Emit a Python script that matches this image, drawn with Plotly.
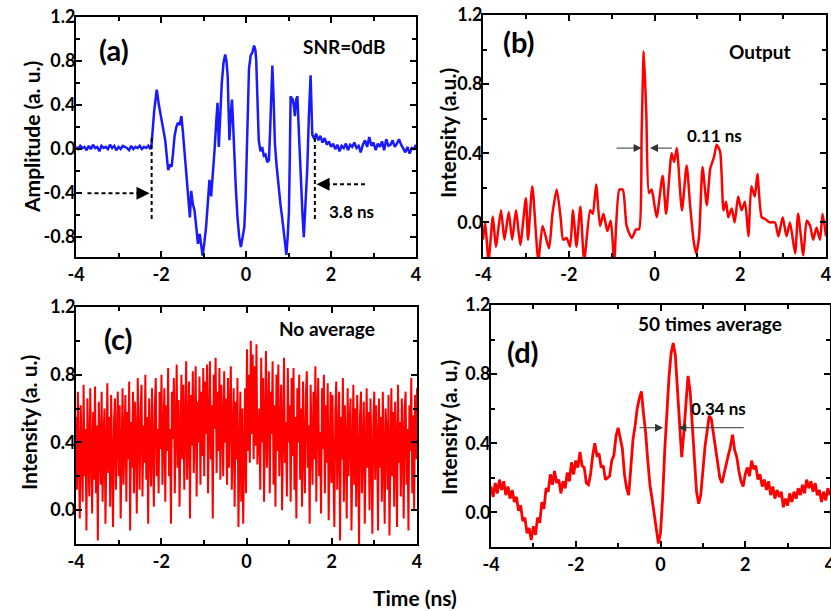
import numpy as np
import plotly.graph_objects as go

W, H = 831, 611

# ---------------- data ----------------
# (a) input waveform, SNR = 0 dB
a_left_y = [0.02, 0.00, 0.03, 0.01, 0.02, -0.01, 0.03, 0.00, 0.04, 0.01, 0.02, -0.02,
            0.03, 0.01, 0.02, 0.00, 0.04, 0.01, 0.03, -0.01, 0.02, 0.00, 0.03, 0.02,
            0.01, -0.01, 0.03, 0.00, 0.02, 0.01, 0.03, 0.00, 0.02, 0.01, 0.03, 0.00]
a_sig_t = [-2.22, -2.16, -2.10, -2.05, -1.98, -1.95, -1.90, -1.85, -1.83, -1.79, -1.75, -1.72,
           -1.68, -1.64, -1.60, -1.56, -1.52, -1.49, -1.45, -1.40, -1.36, -1.32, -1.29, -1.25,
           -1.21, -1.17, -1.13, -1.09, -1.05, -1.02, -0.98, -0.94, -0.90, -0.86, -0.82, -0.78,
           -0.74, -0.70, -0.67, -0.64, -0.60, -0.57, -0.53, -0.49, -0.46, -0.43, -0.41, -0.39,
           -0.36, -0.33, -0.30, -0.28, -0.24, -0.20, -0.16, -0.12, -0.08, -0.04, -0.01, 0.01,
           0.04, 0.07, 0.11, 0.15, 0.19, 0.22, 0.24, 0.27, 0.30, 0.34, 0.38, 0.42,
           0.46, 0.50, 0.54, 0.57, 0.60, 0.62, 0.65, 0.68, 0.72, 0.77, 0.81, 0.85,
           0.89, 0.92, 0.95, 0.98, 1.01, 1.03, 1.05, 1.08, 1.10, 1.13, 1.15, 1.18,
           1.21, 1.25, 1.29, 1.33, 1.36, 1.40, 1.44, 1.48, 1.52, 1.56, 1.61]
a_sig_y = [0.05, 0.35, 0.54, 0.40, 0.25, 0.18, 0.08, -0.12, -0.19, -0.14, -0.16, -0.05,
           0.12, 0.20, 0.24, 0.22, 0.30, 0.18, 0.00, -0.25, -0.45, -0.62, -0.38, -0.50,
           -0.56, -0.72, -0.86, -0.77, -0.92, -0.97, -0.85, -0.71, -0.50, -0.28, -0.43, -0.25,
           -0.01, 0.25, 0.42, 0.02, 0.35, 0.60, 0.78, 0.86, 0.80, 0.66, 0.35, 0.08,
           0.30, 0.45, 0.20, -0.01, -0.35, -0.62, -0.80, -0.89, -0.80, -0.71, -0.45, -0.10,
           0.40, 0.73, 0.85, 0.88, 0.94, 0.90, 0.81, 0.50, 0.08, -0.02, 0.02, -0.06,
           -0.05, -0.12, -0.10, 0.20, 0.62, 0.76, 0.45, 0.05, -0.15, -0.38, -0.50, -0.62,
           -0.75, -0.88, -0.96, -0.80, -0.57, -0.10, 0.48, 0.46, 0.45, 0.38, 0.30, 0.45,
           0.48, 0.10, -0.31, -0.60, -0.80, -0.55, -0.19, 0.30, 0.67, 0.13, 0.09]
a_right_y = [0.14, 0.08, 0.12, 0.06, 0.10, 0.04, 0.07, 0.02, 0.05, 0.00, 0.04, -0.02,
             0.03, 0.01, 0.05, -0.01, 0.04, 0.02, 0.06, 0.01, 0.03, -0.03, 0.04, 0.08,
             0.02, 0.11, 0.03, 0.06, -0.01, 0.05, 0.02, 0.07, -0.01, 0.09, 0.03, 0.04,
             0.08, 0.02, 0.05, 0.09, 0.04, 0.01, -0.03, 0.02, -0.04, 0.01, 0.00, 0.04]

# (b) output
b_t = [-4.00, -3.95, -3.87, -3.77, -3.70, -3.58, -3.50, -3.40, -3.32, -3.23, -3.13, -3.00,
       -2.95, -2.85, -2.71, -2.61, -2.46, -2.38, -2.28, -2.19, -2.13, -2.05, -1.97, -1.90,
       -1.82, -1.73, -1.64, -1.50, -1.44, -1.36, -1.27, -1.19, -1.10, -1.02, -0.94, -0.82,
       -0.74, -0.65, -0.53, -0.43, -0.36, -0.30, -0.25, -0.19, -0.13, -0.07, -0.03, 0.05,
       0.19, 0.27, 0.40, 0.46, 0.52, 0.64, 0.75, 0.83, 0.91, 0.97, 1.04, 1.12,
       1.22, 1.30, 1.39, 1.45, 1.53, 1.61, 1.67, 1.72, 1.80, 1.87, 1.95, 2.03,
       2.11, 2.19, 2.26, 2.34, 2.40, 2.50, 2.58, 2.69, 2.81, 2.89, 2.99, 3.08,
       3.16, 3.28, 3.35, 3.47, 3.55, 3.63, 3.70, 3.78, 3.86, 3.92, 4.00]
b_y = [-0.10, 0.00, -0.22, 0.035, -0.14, 0.07, -0.10, 0.06, -0.10, 0.07, -0.13, 0.14,
       -0.10, 0.21, -0.22, -0.02, -0.15, 0.05, 0.19, 0.03, -0.10, -0.09, -0.14, 0.07,
       -0.14, 0.09, -0.22, 0.07, 0.05, 0.22, -0.02, 0.05, -0.05, 0.01, -0.22, 0.19,
       0.19, -0.02, -0.09, -0.04, -0.04, 0.52, 0.99, 0.62, 0.17, 0.19, 0.15, 0.03,
       0.27, 0.05, 0.40, 0.35, 0.43, 0.07, 0.33, 0.10, -0.10, -0.18, -0.08, 0.32,
       0.10, 0.31, 0.38, 0.45, 0.41, 0.07, 0.12, 0.03, 0.08, 0.00, 0.15, 0.07,
       0.12, -0.08, 0.21, 0.15, 0.28, 0.03, 0.02, 0.00, 0.00, -0.08, 0.03, -0.08,
       0.00, -0.18, 0.05, -0.19, 0.01, -0.02, -0.10, -0.03, -0.10, 0.05, -0.08]

# (c) no average (single shot)
c_y = [
    0.55, 0.12, 0.70, 0.25, -0.05, 0.62, 0.38, 0.05, 0.74, 0.20, 0.48, -0.12, 0.66, 0.30, 0.08,
    0.72, 0.42, -0.02, 0.58, 0.18, 0.73, 0.10, 0.50, -0.18, 0.64, 0.35, 0.15, 0.70, 0.05, 0.45,
    0.60, -0.08, 0.40, 0.75, 0.22, 0.55, 0.02, 0.68, 0.28, -0.10, 0.52, 0.66, 0.12, 0.45, 0.70,
    0.20, 0.62, -0.05, 0.48, 0.72, 0.15, 0.40, 0.68, 0.05, 0.58, 0.30, 0.76, -0.12, 0.52, 0.25,
    0.70, 0.10, 0.64, 0.45, -0.02, 0.78, 0.35, 0.12, 0.60, 0.74, 0.08, 0.50, 0.28, 0.80, 0.18,
    0.55, -0.08, 0.66, 0.40, 0.14, 0.72, 0.30, 0.02, 0.62, 0.78, 0.20, 0.48, 0.10, 0.70, 0.36,
    0.80, 0.15, 0.55, 0.72, 0.05, 0.62, 0.35, 0.84, 0.20, 0.48, -0.08, 0.70, 0.42, 0.78, 0.10,
    0.58, 0.86, 0.25, 0.65, 0.02, 0.52, 0.80, 0.30, 0.74, 0.12, 0.60, 0.88, 0.18, 0.45, 0.76,
    -0.05, 0.68, 0.38, 0.82, 0.22, 0.56, 0.85, 0.08, 0.64, 0.40, 0.79, 0.15, 0.70, 0.32, 0.84,
    0.20, 0.76, 0.45, 0.86, 0.10, 0.68, 0.88, 0.30, 0.62, -0.05, 0.80, 0.48, 0.90, 0.22, 0.70,
    0.35, 0.84, 0.18, 0.74, 0.52, 0.20, 0.82, 0.40, 0.66, 0.15, 0.78, 0.25, 0.60, 0.85, 0.12,
    0.55, 0.72, 0.02, 0.64, 0.30, 0.78, -0.10, 0.50, 0.70, 0.05, 0.60, -0.08, 0.45, 0.72, 0.10,
    0.95, 0.35, 0.80, 0.28, 1.00, 0.45, 0.92, 0.30, 0.85, 0.38, 0.98, 0.27, 0.48, 0.60, 0.12,
    0.90, 0.40, 0.78, 0.05, 0.66, 0.94, 0.25, 0.58, 0.82, 0.10, 0.70, 0.45, 0.88, 0.15, 0.62,
    0.02, 0.80, 0.35, 0.86, 0.20, 0.55, 0.74, 0.00, 0.68, 0.90, 0.28, 0.52, 0.08, 0.84, 0.40,
    0.62, 0.05, 0.78, 0.32, 0.84, 0.12, 0.55, -0.05, 0.72, 0.40, 0.80, 0.18, 0.60, 0.02, 0.76,
    0.35, 0.10, 0.68, 0.82, 0.25, 0.50, -0.08, 0.74, 0.42, 0.15, 0.70, 0.30, 0.85, 0.05, 0.58,
    0.78, 0.20, 0.46, -0.02, 0.72, 0.36, 0.80, 0.10, 0.62, 0.28, 0.75, -0.06, 0.52, 0.70, 0.16,
    0.68, 0.22, -0.10, 0.58, 0.76, 0.12, 0.45, 0.70, -0.18, 0.55, 0.30, 0.78, 0.05, 0.62, 0.38,
    -0.05, 0.72, 0.20, 0.50, 0.66, -0.12, 0.42, 0.74, 0.15, 0.60, 0.02, 0.68, 0.32, -0.20, 0.56,
    0.70, 0.10, 0.48, 0.64, -0.08, 0.40, 0.72, 0.25, 0.58, 0.00, 0.66, 0.35, -0.14, 0.52, 0.70,
    0.18, 0.62, 0.40, -0.12, 0.66, 0.25, 0.55, 0.05, 0.70, 0.32, -0.08, 0.60, 0.45, 0.12, 0.68,
    -0.15, 0.50, 0.72, 0.20, 0.58, 0.02, 0.64, 0.38, -0.10, 0.74, 0.28, 0.52, 0.08, 0.66, 0.42,
    -0.05, 0.60, 0.70, 0.15, 0.48, -0.12, 0.62, 0.35, 0.78, 0.10, 0.56, 0.00, 0.68, 0.30, 0.72]

# (d) 50 times average
d_y = [0.15, 0.09, 0.17, 0.11, 0.19, 0.13, 0.18, 0.10, 0.15, 0.08, 0.13, 0.06, 0.09, 0.01, 0.04,
       -0.05, -0.03, -0.12, -0.09, -0.16, -0.08, -0.13, -0.03, -0.06, 0.06, 0.02, 0.14, 0.12, 0.22,
       0.16, 0.24, 0.17, 0.19, 0.11, 0.18, 0.14, 0.23, 0.18, 0.29, 0.22, 0.30, 0.26, 0.35, 0.27,
       0.26, 0.17, 0.16, 0.22, 0.33, 0.40, 0.33, 0.34, 0.26, 0.27, 0.19, 0.20, 0.21, 0.30, 0.33,
       0.44, 0.49, 0.43, 0.37, 0.22, 0.14, 0.10, 0.28, 0.42, 0.50, 0.60, 0.66, 0.70, 0.57, 0.46,
       0.30, 0.16, 0.08, 0.00, -0.08, -0.18, -0.12, 0.08, 0.36, 0.60, 0.78, 0.92, 0.98, 0.91, 0.72,
       0.50, 0.32, 0.46, 0.66, 0.79, 0.70, 0.52, 0.28, 0.12, 0.05, 0.10, 0.24, 0.38, 0.47, 0.56,
       0.54, 0.46, 0.38, 0.30, 0.20, 0.17, 0.23, 0.27, 0.33, 0.38, 0.45, 0.36, 0.32, 0.24, 0.18,
       0.15, 0.22, 0.26, 0.21, 0.30, 0.25, 0.27, 0.19, 0.22, 0.15, 0.19, 0.13, 0.18, 0.10, 0.15,
       0.08, 0.13, 0.09, 0.12, 0.03, 0.08, 0.04, 0.11, 0.06, 0.12, 0.08, 0.14, 0.10, 0.16, 0.11,
       0.19, 0.14, 0.18, 0.12, 0.17, 0.10, 0.13, 0.06, 0.12, 0.07, 0.14, 0.10]

x_tickvals = [-4, -2, 0, 2, 4]
x_ticktext = ["-4", "-2", "0", "2", "4"]
ya_tickvals = [-0.8, -0.4, 0.0, 0.4, 0.8, 1.2]
ya_ticktext = ["-0.8", "-0.4", "0.0", "0.4", "0.8", "1.2"]
yi_tickvals = [0.0, 0.4, 0.8, 1.2]
yi_ticktext = ["0.0", "0.4", "0.8", "1.2"]

# ---------------- figure ----------------
a_t = list(np.linspace(-4, -2.25, len(a_left_y))) + a_sig_t + list(np.linspace(1.65, 4.0, len(a_right_y)))
a_y = a_left_y + a_sig_y + a_right_y
c_t = np.linspace(-4, 4, len(c_y))
d_t = np.linspace(-4, 4, len(d_y))

FONT = "Lato, 'Open Sans', sans-serif"
RED = "#ff0000"
BLUE = "#1a1aff"

fig = go.Figure()
fig.add_trace(go.Scatter(x=a_t, y=a_y, mode="lines", line=dict(color=BLUE, width=2.5),
                         xaxis="x", yaxis="y", showlegend=False))
fig.add_trace(go.Scatter(x=b_t, y=b_y, mode="lines", line=dict(color=RED, width=2.5, shape="spline", smoothing=0.6),
                         xaxis="x2", yaxis="y2", showlegend=False))
fig.add_trace(go.Scatter(x=c_t, y=c_y, mode="lines", line=dict(color=RED, width=2.0),
                         xaxis="x3", yaxis="y3", showlegend=False))
fig.add_trace(go.Scatter(x=d_t, y=d_y, mode="lines", line=dict(color=RED, width=2.8),
                         xaxis="x4", yaxis="y4", showlegend=False))


def px(x):
    return x / W


def py(y):
    return 1 - y / H


tickfont = dict(family=FONT, size=18, color="black", weight="bold")


def xax(dom, anchor):
    return dict(domain=dom, anchor=anchor, range=[-4, 4], tickvals=x_tickvals, ticktext=x_ticktext,
                showline=True, linecolor="black", linewidth=2, mirror="ticks", ticks="inside",
                ticklen=6, tickwidth=2, tickcolor="black", showgrid=False, zeroline=False,
                tickfont=tickfont, automargin=False, ticklabeloverflow="allow",
                minor=dict(ticks="inside", ticklen=4, tickwidth=1.5, tickcolor="black", dtick=1, tick0=0,
                           showgrid=False))


def yax(dom, anchor, rng, tv, tt):
    return dict(domain=dom, anchor=anchor, range=rng, tickvals=tv, ticktext=tt,
                showline=True, linecolor="black", linewidth=2, mirror="ticks", ticks="inside",
                ticklen=6, tickwidth=2, tickcolor="black", showgrid=False, zeroline=False,
                tickfont=tickfont, ticklabelstandoff=-5, automargin=False, ticklabeloverflow="allow",
                minor=dict(ticks="inside", ticklen=4, tickwidth=1.5, tickcolor="black", dtick=0.2, tick0=0,
                           showgrid=False))


fig.update_layout(
    template="none",
    width=W, height=H, margin=dict(l=0, r=0, t=0, b=0, autoexpand=False),
    paper_bgcolor="white", plot_bgcolor="white",
    xaxis=xax([px(76), px(416)], "y"),
    yaxis=yax([py(257), py(17)], "x", [-0.98, 1.2], ya_tickvals, ya_ticktext),
    xaxis2=xax([px(483), px(826)], "y2"),
    yaxis2=yax([py(257), py(15)], "x2", [-0.2, 1.2], yi_tickvals, yi_ticktext),
    xaxis3=xax([px(76), px(417)], "y3"),
    yaxis3=yax([py(544), py(307)], "x3", [-0.2, 1.2], yi_tickvals, yi_ticktext),
    xaxis4=xax([px(491), px(830)], "y4"),
    yaxis4=yax([py(547), py(305)], "x4", [-0.2, 1.2], yi_tickvals, yi_ticktext),
)


def txt(x, y, s, size, angle=0):
    fig.add_annotation(x=px(x), y=py(y), xref="paper", yref="paper", text=s, showarrow=False,
                       xanchor="center", yanchor="middle", textangle=angle,
                       font=dict(family=FONT, size=size, color="black", weight="bold"))


# panel labels and titles
txt(114, 50, "(a)", 29)
txt(344, 47, "SNR=0dB", 19)
txt(519, 41, "(b)", 29)
txt(760, 51, "Output", 19)
txt(118, 338, "(c)", 29)
txt(327, 328, "No average", 19)
txt(523, 351, "(d)", 29)
txt(710, 323, "50 times average", 19)
txt(415, 597, "Time (ns)", 21)
txt(32, 137, "Amplitude (a. u.)", 21, -90)
txt(447, 133, "Intensity (a.u.)", 21, -90)
txt(28, 423, "Intensity (a. u.)", 21, -90)
txt(448, 427, "Intensity (a. u.)", 21, -90)

# (a) dashed markers
for xv in [-2.22, 1.62]:
    fig.add_shape(type="line", xref="x", yref="y", x0=xv, x1=xv, y0=0.10, y1=-0.65,
                  line=dict(color="black", width=2, dash="4px,3px"))
fig.add_shape(type="line", xref="x", yref="y", x0=-3.73, x1=-2.45, y0=-0.40, y1=-0.40,
              line=dict(color="black", width=2, dash="4px,3px"))
fig.add_shape(type="line", xref="x", yref="y", x0=2.80, x1=1.85, y0=-0.32, y1=-0.32,
              line=dict(color="black", width=2, dash="4px,3px"))
fig.add_annotation(x=-2.27, y=-0.40, ax=-2.5, ay=-0.40, xref="x", yref="y", axref="x", ayref="y",
                   text="", showarrow=True, arrowhead=2, arrowsize=1.3, arrowwidth=2, arrowcolor="black")
fig.add_annotation(x=1.66, y=-0.32, ax=1.9, ay=-0.32, xref="x", yref="y", axref="x", ayref="y",
                   text="", showarrow=True, arrowhead=2, arrowsize=1.3, arrowwidth=2, arrowcolor="black")
fig.add_annotation(x=2.49, y=-0.57, xref="x", yref="y", text="3.8 ns", showarrow=False,
                   font=dict(family=FONT, size=17, color="black", weight="bold"))

# (b) FWHM arrows
fig.add_annotation(x=-0.30, y=0.43, ax=-0.92, ay=0.43, xref="x2", yref="y2", axref="x2", ayref="y2",
                   text="", showarrow=True, arrowhead=2, arrowsize=1.6, arrowwidth=1, arrowcolor="#333333")
fig.add_annotation(x=-0.105, y=0.43, ax=0.44, ay=0.43, xref="x2", yref="y2", axref="x2", ayref="y2",
                   text="", showarrow=True, arrowhead=2, arrowsize=1.6, arrowwidth=1, arrowcolor="#333333")
fig.add_annotation(x=1.41, y=0.50, xref="x2", yref="y2", text="0.11 ns", showarrow=False,
                   font=dict(family=FONT, size=17, color="black", weight="bold"))

# (d) FWHM arrows
fig.add_annotation(x=0.06, y=0.49, ax=-0.53, ay=0.49, xref="x4", yref="y4", axref="x4", ayref="y4",
                   text="", showarrow=True, arrowhead=2, arrowsize=1.6, arrowwidth=1, arrowcolor="#333333")
fig.add_annotation(x=0.42, y=0.49, ax=2.0, ay=0.49, xref="x4", yref="y4", axref="x4", ayref="y4",
                   text="", showarrow=True, arrowhead=2, arrowsize=1.6, arrowwidth=1, arrowcolor="#333333")
fig.add_annotation(x=1.36, y=0.60, xref="x4", yref="y4", text="0.34 ns", showarrow=False,
                   font=dict(family=FONT, size=17, color="black", weight="bold"))

fig.write_html("out.html", config={"displayModeBar": False},
               post_script="document.body.style.margin='0px'; document.body.style.overflow='hidden';")
